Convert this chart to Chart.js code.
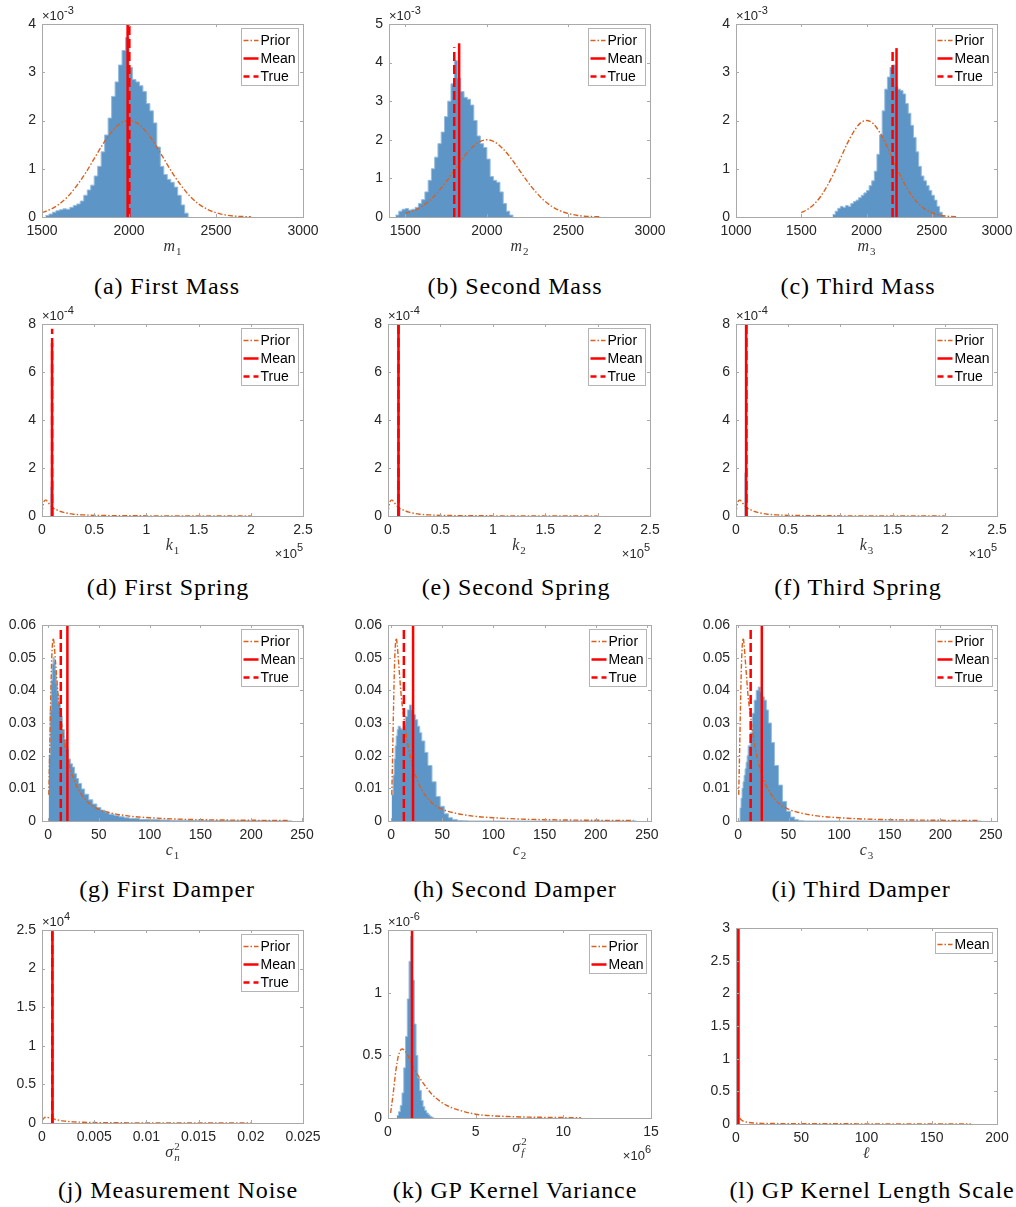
<!DOCTYPE html>
<html>
<head>
<meta charset="utf-8">
<script src="https://cdn.jsdelivr.net/npm/chart.js@4.4.1/dist/chart.umd.min.js"></script>
<style>
html,body{margin:0;padding:0;background:#fff;}
#fig{position:relative;width:1016px;height:1207px;overflow:hidden;background:#fff;}
#fig canvas{position:absolute;}
.cap{position:absolute;font-family:"Liberation Serif","Times New Roman",serif;font-size:24px;letter-spacing:0.9px;line-height:24px;white-space:nowrap;transform:translateX(-50%);color:#000;}
</style>
</head>
<body>
<div id="fig"></div>
<script>

// ---------------------
// DATA (y values in the units shown on each axis, i.e. after the x10^n factor)
// ---------------------

// masses: prior (same for the three masses)
const massPriorX=[1500,1550,1600,1650,1700,1750,1800,1850,1900,1950,2000,2050,2100,2150,2200,2250,2300,2350,2400,2450,2500,2550,2600,2650,2700];
const massPriorY=[0.09,0.16,0.27,0.43,0.65,0.91,1.21,1.51,1.76,1.94,2.0,1.94,1.76,1.51,1.21,0.91,0.65,0.43,0.27,0.16,0.09,0.045,0.02,0.01,0.004];

// histograms (bin left edges, heights)
const histAEdges=[1520,1540,1560,1580,1600,1620,1640,1660,1680,1700,1720,1740,1760,1780,1800,1820,1840,1860,1880,1900,1920,1940,1960,1980,2000,2020,2040,2060,2080,2100,2120,2140,2160,2180,2200,2220,2240,2260,2280,2300,2320,2340];
const histAHeights=[0.03,0.06,0.10,0.13,0.15,0.17,0.16,0.20,0.24,0.27,0.33,0.45,0.56,0.66,0.85,1.05,1.35,1.70,2.05,2.50,2.80,3.15,3.45,3.72,3.10,2.85,2.80,2.72,2.60,2.35,2.20,1.95,1.45,1.05,0.88,0.78,0.72,0.62,0.45,0.25,0.08];

const histBEdges=[1440,1460,1480,1500,1520,1540,1560,1580,1600,1620,1640,1660,1680,1700,1720,1740,1760,1780,1800,1820,1840,1860,1880,1900,1920,1940,1960,1980,2000,2020,2040,2060,2080,2100,2120,2140,2160];
const histBHeights=[0.05,0.15,0.20,0.22,0.18,0.20,0.25,0.35,0.45,0.65,0.95,1.25,1.55,1.90,2.20,2.60,3.00,3.45,4.05,3.60,3.25,3.10,3.05,2.90,2.50,2.10,1.90,1.80,1.50,1.05,0.95,0.90,0.65,0.35,0.15,0.05];

const histCEdges=[1740,1760,1780,1800,1820,1840,1860,1880,1900,1920,1940,1960,1980,2000,2020,2040,2060,2080,2100,2120,2140,2160,2180,2200,2220,2240,2260,2280,2300,2320,2340,2360,2380,2400,2420,2440,2460,2480,2500,2520,2540,2560,2580,2600];
const histCHeights=[0.05,0.12,0.18,0.22,0.20,0.24,0.22,0.28,0.32,0.35,0.40,0.45,0.50,0.55,0.65,0.75,0.95,1.30,1.70,2.20,2.65,2.90,3.10,3.15,2.70,2.65,2.62,2.55,2.35,2.15,1.90,1.65,1.35,1.05,0.85,0.75,0.65,0.55,0.45,0.35,0.22,0.10,0.03];

// springs (x in 1e5, y in 1e-4)
const springPriorX=[0,0.01,0.02,0.03,0.04,0.05,0.07,0.1,0.12,0.15,0.2,0.25,0.3,0.4,0.5,0.7,1.0,1.5,2.0];
const springPriorY=[0.15,0.45,0.6,0.66,0.66,0.62,0.5,0.36,0.3,0.24,0.16,0.11,0.075,0.045,0.028,0.014,0.007,0.003,0.002];
const histDEdges=[0.08,0.085,0.09,0.095,0.1,0.105,0.11];
const histDHeights=[0.3,1.2,6.5,7.0,1.5,0.3];
const histEEdges=[0.085,0.09,0.095,0.1,0.105,0.11,0.115];
const histEHeights=[0.2,1.5,8,8,2.0,0.3];
const histFEdges=[0.08,0.085,0.09,0.095,0.1,0.105,0.11];
const histFHeights=[0.3,1.8,8,8,1.2,0.2];

// dampers
const damperPriorX=[0.7,1.5,2.5,3.5,4.5,5,6,7,8,10,12,15,20,25,30,40,50,60,80,100,125,150,200,237];
const damperPriorY=[0.008,0.02,0.036,0.049,0.055,0.056,0.054,0.05,0.046,0.038,0.033,0.026,0.018,0.013,0.0095,0.0055,0.0036,0.0026,0.0015,0.001,0.0006,0.0004,0.00022,0.00015];
const damperEdges=[0.5,2,3,4,5,6,7,8,9,10,12,14,16,18,20,22,24,26,28,30,33,36,40,44,48,52,56,60,65,70,75,80,90,100,110,120,140,160,180,200,220,240];
const histGHeights=[0.02,0.034,0.043,0.048,0.05,0.049,0.046,0.042,0.039,0.036,0.032,0.028,0.025,0.022,0.019,0.0175,0.0165,0.0145,0.013,0.0115,0.0098,0.0082,0.0065,0.0052,0.0041,0.0033,0.0027,0.0021,0.0017,0.0013,0.001,0.0008,0.0005,0.0004,0.0003,0.0002,0.00015,0.0001,0.00008,0.00005,0.00003];
const histHHeights=[0.008,0.014,0.019,0.023,0.026,0.028,0.029,0.029,0.0285,0.028,0.029,0.032,0.034,0.0355,0.034,0.0325,0.031,0.029,0.027,0.0245,0.021,0.017,0.012,0.0075,0.0045,0.0022,0.001,0.0004,0.00015,0.00005,0,0,0,0,0,0,0,0,0,0,0];
const histIHeights=[0,0.004,0.007,0.01,0.012,0.014,0.016,0.018,0.02,0.023,0.027,0.033,0.037,0.04,0.041,0.0395,0.038,0.037,0.034,0.03,0.024,0.017,0.011,0.006,0.003,0.0012,0.0004,0.0001,0,0,0,0,0,0,0,0,0,0,0,0,0];

// measurement noise (y in 1e4)
const noisePriorX=[0,0.0002,0.0004,0.0006,0.0008,0.001,0.0013,0.0016,0.002,0.0025,0.003,0.004,0.005,0.007,0.01,0.015,0.02];
const noisePriorY=[0.03,0.065,0.075,0.07,0.062,0.055,0.045,0.037,0.028,0.02,0.015,0.009,0.006,0.003,0.0015,0.0006,0.0003];
const histJEdges=[0.00092,0.00096,0.001,0.00104,0.00108];
const histJHeights=[1.5,3,3,1.2];

// GP kernel variance (x in 1e6, y in 1e-6)
const varPriorX=[0.15,0.3,0.45,0.6,0.8,1.0,1.2,1.5,2,2.5,3,3.5,4,5,6,7,8,9,11];
const varPriorY=[0.04,0.2,0.38,0.5,0.55,0.53,0.48,0.39,0.28,0.19,0.13,0.09,0.065,0.03,0.017,0.011,0.007,0.005,0.002];
const histKEdges=[0.5,0.6,0.7,0.8,0.9,1.0,1.1,1.2,1.3,1.4,1.5,1.6,1.7,1.8,1.9,2.0,2.1,2.2,2.3,2.4,2.5,2.6];
const histKHeights=[0.02,0.05,0.1,0.2,0.4,0.65,0.95,1.25,1.45,1.1,0.75,0.5,0.32,0.22,0.14,0.09,0.06,0.04,0.025,0.012,0.005];

// GP kernel length scale
const lenPriorX=[0.3,0.6,1,1.5,2,3,4,6,8,10,15,20,30,50,80,120,180];
const lenPriorY=[1.05,0.6,0.35,0.2,0.14,0.09,0.065,0.04,0.03,0.022,0.014,0.01,0.007,0.004,0.003,0.002,0.0015];
const histLEdges=[0.9,1.3,1.7,2.1,2.5];
const histLHeights=[3,3,3,3];

// mean / true markers, per panel a..l
const meanX=[1992,1830,2230,0.096,0.1,0.097,19,21.5,23.5,0.001,1.37,1.8];
const meanTop=[4,4.5,3.5,7.2,8,8,0.06,0.06,0.06,2.5,1.5,3];
const trueX=[2002,1800,2200,0.097,0.1,0.1,12.5,12.5,12.5,0.00098,null,null];
const trueTop=[4,4.4,3.5,7.8,8,8,0.06,0.06,0.06,2.5,null,null];

// tick values
const ticksMassX=[1500,2000,2500,3000];
const ticksMassXc=[1000,1500,2000,2500,3000];
const ticksMassY=[0,1,2,3,4];
const ticksMassYb=[0,1,2,3,4,5];
const ticksSpringX=[0,0.5,1,1.5,2,2.5];
const ticksSpringY=[0,2,4,6,8];
const ticksDamperX=[0,50,100,150,200,250];
const ticksDamperY=[0,0.01,0.02,0.03,0.04,0.05,0.06];
const ticksNoiseX=[0,0.005,0.01,0.015,0.02,0.025];
const ticksNoiseY=[0,0.5,1,1.5,2,2.5];
const ticksVarX=[0,5,10,15];
const ticksVarY=[0,0.5,1,1.5];
const ticksLenX=[0,50,100,150,200];
const ticksLenY=[0,0.5,1,1.5,2,2.5,3];

const captions=["(a) First Mass","(b) Second Mass","(c) Third Mass","(d) First Spring","(e) Second Spring","(f) Third Spring","(g) First Damper","(h) Second Damper","(i) Third Damper","(j) Measurement Noise","(k) GP Kernel Variance","(l) GP Kernel Length Scale"];

// ---------------------
// LAYOUT
// ---------------------

const HIST="rgb(94,149,199)";
const HIST_EDGE="rgba(150,188,222,1)";
const ORANGE="rgb(217,96,30)";
const RED="rgb(255,0,0)";
const AXIS="#a9a9a9";
const PADL=45,PADT=22,PADR=25,PADB=52;
const FONT='"Liberation Sans", Arial, sans-serif';

const LEG3=[["prior","Prior"],["mean","Mean"],["true","True"]];

const panels=[
 {box:[42,24,303,217],xr:[1500,3000],yr:[0,4],xt:ticksMassX,yt:ticksMassY,hist:[histAEdges,histAHeights],prior:[massPriorX,massPriorY],leg:LEG3,yExp:"-3",lab:["m","1",null],cap:[167,286]},
 {box:[389,24,650,217],xr:[1400,3000],yr:[0,5],xt:ticksMassX,yt:ticksMassYb,hist:[histBEdges,histBHeights],prior:[massPriorX,massPriorY],leg:LEG3,yExp:"-3",lab:["m","2",null],cap:[515,286]},
 {box:[736,24,997,217],xr:[1000,3000],yr:[0,4],xt:ticksMassXc,yt:ticksMassY,hist:[histCEdges,histCHeights],prior:[massPriorX,massPriorY],leg:LEG3,yExp:"-3",lab:["m","3",null],cap:[858,286]},
 {box:[42,324,303,516],xr:[0,2.5],yr:[0,8],xt:ticksSpringX,yt:ticksSpringY,hist:[histDEdges,histDHeights],prior:[springPriorX,springPriorY],leg:LEG3,yExp:"-4",xExp:"5",lab:["k","1",null],cap:[168,587]},
 {box:[388,324,650,516],xr:[0,2.5],yr:[0,8],xt:ticksSpringX,yt:ticksSpringY,hist:[histEEdges,histEHeights],prior:[springPriorX,springPriorY],leg:LEG3,yExp:"-4",xExp:"5",lab:["k","2",null],cap:[516,587]},
 {box:[736,324,997,516],xr:[0,2.5],yr:[0,8],xt:ticksSpringX,yt:ticksSpringY,hist:[histFEdges,histFHeights],prior:[springPriorX,springPriorY],leg:LEG3,yExp:"-4",xExp:"5",lab:["k","3",null],cap:[858,587]},
 {box:[42,625,303,821],xr:[-6,251],yr:[0,0.06],xt:ticksDamperX,yt:ticksDamperY,hist:[damperEdges,histGHeights],prior:[damperPriorX,damperPriorY],leg:LEG3,lab:["c","1",null],cap:[167,889]},
 {box:[388,625,651,821],xr:[-3,254],yr:[0,0.06],xt:ticksDamperX,yt:ticksDamperY,hist:[damperEdges,histHHeights],prior:[damperPriorX,damperPriorY],leg:LEG3,lab:["c","2",null],cap:[515,889]},
 {box:[736,625,997,821],xr:[-2,256],yr:[0,0.06],xt:ticksDamperX,yt:ticksDamperY,hist:[damperEdges,histIHeights],prior:[damperPriorX,damperPriorY],leg:LEG3,lab:["c","3",null],cap:[861,889]},
 {box:[42,930,303,1123],xr:[0,0.025],yr:[0,2.5],xt:ticksNoiseX,yt:ticksNoiseY,hist:[histJEdges,histJHeights],prior:[noisePriorX,noisePriorY],leg:LEG3,yExp:"4",lab:["σ","n","2"],cap:[178,1190]},
 {box:[388,930,651,1118],xr:[0,15],yr:[0,1.5],xt:ticksVarX,yt:ticksVarY,hist:[histKEdges,histKHeights],prior:[varPriorX,varPriorY],leg:[["prior","Prior"],["mean","Mean"]],yExp:"-6",xExp:"6",lab:["σ","f","2"],cap:[515,1190]},
 {box:[736,928,997,1124],xr:[0,200],yr:[0,3],xt:ticksLenX,yt:ticksLenY,hist:[histLEdges,histLHeights],prior:[lenPriorX,lenPriorY],leg:[["prior","Mean"]],lab:["ℓ",null,null],cap:[872,1190]}
];

function steps(edges,heights){
    return edges.map((e,i)=>({x:e,y:i<heights.length?heights[i]:0}));
}

function pairs(xs,ys){
    return xs.map((v,i)=>({x:v,y:ys[i]}));
}

function sampleStyle(ctx,kind){
    if(kind==="prior"){ctx.strokeStyle=ORANGE;ctx.lineWidth=1.4;ctx.setLineDash([5,2,1.5,2]);}
    else if(kind==="mean"){ctx.strokeStyle=RED;ctx.lineWidth=2.5;ctx.setLineDash([]);}
    else {ctx.strokeStyle=RED;ctx.lineWidth=2.5;ctx.setLineDash([6,4]);}
}

// frame, inner ticks, legend, exponents and axis label
const panelDeco={
    id:"panelDeco",
    afterDraw(chart,args,o){
        const ctx=chart.ctx;
        const a=chart.chartArea;
        const xs=chart.scales.x, ys=chart.scales.y;
        ctx.save();

        // inner tick marks on all four sides
        ctx.strokeStyle=AXIS;ctx.lineWidth=1;ctx.setLineDash([]);
        ctx.beginPath();
        xs.ticks.forEach(t=>{
            const px=Math.round(xs.getPixelForValue(t.value))+0.5;
            ctx.moveTo(px,a.bottom);ctx.lineTo(px,a.bottom-3);
            ctx.moveTo(px,a.top);ctx.lineTo(px,a.top+3);
        });
        ys.ticks.forEach(t=>{
            const py=Math.round(ys.getPixelForValue(t.value))+0.5;
            ctx.moveTo(a.left,py);ctx.lineTo(a.left+3,py);
            ctx.moveTo(a.right,py);ctx.lineTo(a.right-3,py);
        });
        ctx.stroke();
        ctx.strokeRect(Math.round(a.left)+0.5,Math.round(a.top)+0.5,Math.round(a.right-a.left),Math.round(a.bottom-a.top));

        // legend
        ctx.font='14px '+FONT;
        const tw=Math.max(...o.leg.map(l=>ctx.measureText(l[1]).width));
        const bw=Math.round(19+tw+3), bh=o.leg.length*18+3;
        const bx=Math.round(a.right-5-bw)+0.5, by=Math.round(a.top+4)+0.5;
        ctx.fillStyle="#fff";ctx.fillRect(bx,by,bw,bh);
        ctx.strokeStyle="#b4b4b4";ctx.lineWidth=1;ctx.strokeRect(bx,by,bw,bh);
        o.leg.forEach((l,i)=>{
            const cy=by+12+i*18;
            ctx.save();sampleStyle(ctx,l[0]);
            ctx.beginPath();ctx.moveTo(bx+2,cy);ctx.lineTo(bx+17,cy);ctx.stroke();
            ctx.restore();
            ctx.fillStyle="#000";ctx.textBaseline="middle";ctx.textAlign="left";
            ctx.fillText(l[1],bx+19,cy+0.5);
        });

        // exponent factors
        ctx.fillStyle="#262626";ctx.textBaseline="alphabetic";ctx.textAlign="left";
        if(o.yExp){
            ctx.font='13px '+FONT;
            ctx.fillText("×10",a.left,a.top-4);
            const w=ctx.measureText("×10").width;
            ctx.font='11px '+FONT;
            ctx.fillText(o.yExp,a.left+w,a.top-10);
        }
        if(o.xExp){
            ctx.font='11px '+FONT;
            const ws=ctx.measureText(o.xExp).width;
            ctx.fillText(o.xExp,a.right-ws,a.bottom+35);
            ctx.font='13px '+FONT;
            const w=ctx.measureText("×10").width;
            ctx.fillText("×10",a.right-ws-w,a.bottom+42);
        }

        // axis label (math style)
        const [base,sub,sup]=o.lab;
        ctx.fillStyle="#333";
        ctx.font='italic 16px "Liberation Serif", "Times New Roman", serif';
        const wb=ctx.measureText(base).width;
        const subFont=(sub&&/[a-z]/.test(sub))?'italic 11px "Liberation Serif", serif':'11px "Liberation Serif", serif';
        ctx.font=subFont;
        const wsub=sub?ctx.measureText(sub).width:0;
        ctx.font='11px "Liberation Serif", serif';
        const wsup=sup?ctx.measureText(sup).width:0;
        const total=wb+1+Math.max(wsub,wsup);
        const x0=(a.left+a.right)/2-total/2, yb=a.bottom+34;
        ctx.font='italic 16px "Liberation Serif", "Times New Roman", serif';
        ctx.fillText(base,x0,yb);
        if(sub){ctx.font=subFont;ctx.fillText(sub,x0+wb+1,yb+4);}
        if(sup){ctx.font='11px "Liberation Serif", serif';ctx.fillText(sup,x0+wb+1,yb-7);}

        ctx.restore();
    }
};

// ---------------------
// CHARTS
// ---------------------

function renderPanel(p,i){

    const fig=document.getElementById("fig");
    const [L,T,R,B]=p.box;
    const W=R-L+PADL+PADR, H=B-T+PADT+PADB;

    const cv=document.createElement("canvas");
    cv.width=W;cv.height=H;
    cv.style.left=(L-PADL)+"px";cv.style.top=(T-PADT)+"px";
    cv.style.width=W+"px";cv.style.height=H+"px";
    fig.appendChild(cv);

    const datasets=[];

    datasets.push({
        data:steps(p.hist[0],p.hist[1]),
        stepped:true,fill:"origin",
        backgroundColor:HIST,borderColor:HIST_EDGE,borderWidth:1,
        pointRadius:0,order:4,clip:0
    });

    datasets.push({
        data:pairs(p.prior[0],p.prior[1]),
        borderColor:ORANGE,borderWidth:1.4,borderDash:[5,2,1.5,2],
        cubicInterpolationMode:"monotone",fill:false,
        pointRadius:0,order:3,clip:0
    });

    datasets.push({
        data:[{x:meanX[i],y:0},{x:meanX[i],y:meanTop[i]}],
        borderColor:RED,borderWidth:2.5,fill:false,
        pointRadius:0,order:2,clip:0
    });

    if(trueX[i]!==null){
        datasets.push({
            data:[{x:trueX[i],y:0},{x:trueX[i],y:trueTop[i]}],
            borderColor:RED,borderWidth:2.5,borderDash:[9,4],fill:false,
            pointRadius:0,order:1,clip:0
        });
    }

    const fmt=v=>String(v);

    new Chart(cv,{
        type:"line",
        data:{datasets:datasets},
        options:{
            responsive:false,animation:false,devicePixelRatio:1,
            layout:{padding:{left:0,top:PADT,right:PADR,bottom:0}},
            plugins:{
                legend:{display:false},tooltip:{enabled:false},
                panelDeco:{leg:p.leg,yExp:p.yExp,xExp:p.xExp,lab:p.lab}
            },
            scales:{
                x:{
                    type:"linear",min:p.xr[0],max:p.xr[1],
                    grid:{display:false,drawTicks:false},border:{display:false},
                    ticks:{padding:6,color:"#262626",font:{family:FONT,size:14},maxRotation:0,callback:fmt},
                    afterBuildTicks:s=>{s.ticks=p.xt.map(v=>({value:v}));},
                    afterFit:s=>{s.height=PADB;}
                },
                y:{
                    type:"linear",min:p.yr[0],max:p.yr[1],
                    grid:{display:false,drawTicks:false},border:{display:false},
                    ticks:{padding:6,color:"#262626",font:{family:FONT,size:14},callback:fmt},
                    afterBuildTicks:s=>{s.ticks=p.yt.map(v=>({value:v}));},
                    afterFit:s=>{s.width=PADL;}
                }
            }
        },
        plugins:[panelDeco]
    });

    const cap=document.createElement("div");
    cap.className="cap";
    cap.textContent=captions[i];
    cap.style.left=p.cap[0]+"px";
    cap.style.top=(p.cap[1]-12)+"px";
    fig.appendChild(cap);
}

Chart.defaults.font.family=FONT;
Chart.defaults.font.size=14;

panels.forEach(renderPanel);

</script>
</body>
</html>
